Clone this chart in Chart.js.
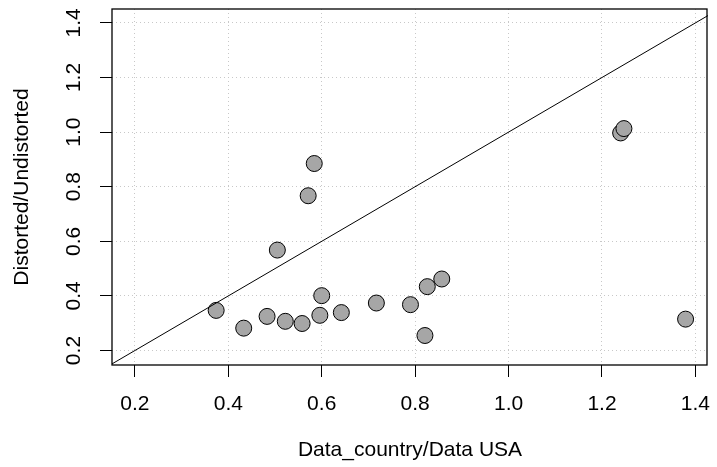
<!DOCTYPE html>
<html>
<head>
<meta charset="utf-8">
<script src="https://cdn.jsdelivr.net/npm/chart.js@4"></script>
<style>
html, body { margin: 0; padding: 0; background: #fff; }
#wrap { width: 717px; height: 467px; }
</style>
</head>
<body>
<div id="wrap"><canvas id="c" width="717" height="467"></canvas></div>
<script>
// Ma'lumotlar
const ratioX = [0.374, 0.433, 0.483, 0.522, 0.558, 0.505, 0.571, 0.584, 0.596, 0.600,
                0.642, 0.717, 0.790, 0.821, 0.826, 0.857, 1.240, 1.247, 1.379];
const ratioY = [0.347, 0.282, 0.325, 0.307, 0.299, 0.568, 0.767, 0.885, 0.329, 0.401,
                0.339, 0.374, 0.368, 0.255, 0.434, 0.462, 0.997, 1.013, 0.315];
const tickValues = [0.2, 0.4, 0.6, 0.8, 1.0, 1.2, 1.4];
const xRange = [0.151, 1.427];
const yRange = [0.147, 1.451];

const FONT = '21px "Liberation Sans", Arial, sans-serif';

// Boks va o'qlar yorliqlari
const rAxes = {
    id: 'rAxes',
    afterDraw(chart) {
        const ctx = chart.ctx, a = chart.chartArea;
        const xs = chart.scales.x, ys = chart.scales.y;
        ctx.save();
        ctx.strokeStyle = '#000';
        ctx.lineWidth = 1.3;
        ctx.strokeRect(a.left, a.top, a.right - a.left - 1, a.bottom - a.top);
        ctx.font = FONT;
        ctx.fillStyle = '#000';
        ctx.textAlign = 'center';
        ctx.textBaseline = 'middle';
        tickValues.forEach(v => {
            const px = xs.getPixelForValue(v);
            ctx.fillText(v.toFixed(1), px, 404);
            const py = ys.getPixelForValue(v);
            ctx.save();
            ctx.translate(74, py);
            ctx.rotate(-Math.PI / 2);
            ctx.fillText(v.toFixed(1), 0, 0);
            ctx.restore();
        });
        ctx.fillText('Data_country/Data USA', (a.left + a.right) / 2, 450);
        ctx.save();
        ctx.translate(22, (a.top + a.bottom) / 2);
        ctx.rotate(-Math.PI / 2);
        ctx.fillText('Distorted/Undistorted', 0, 0);
        ctx.restore();
        ctx.restore();
    }
};

const gridCfg = {
    color: '#c8c8c8',
    tickColor: '#000',
    tickBorderDash: [],
    tickLength: 12,
    drawTicks: true
};

new Chart(document.getElementById('c'), {
    data: {
        datasets: [{
            type: 'line',
            data: [{ x: 0, y: 0 }, { x: 2, y: 2 }],
            borderColor: '#000',
            borderWidth: 1,
            pointRadius: 0
        }, {
            type: 'scatter',
            data: ratioX.map((x, i) => ({ x: x, y: ratioY[i] })),
            backgroundColor: '#a6a6a6',
            borderColor: '#000',
            borderWidth: 1,
            pointRadius: 8
        }]
    },
    options: {
        responsive: false,
        animation: false,
        layout: { padding: { top: 6, right: 1, left: 0, bottom: 0 } },
        plugins: { legend: { display: false }, tooltip: { enabled: false } },
        scales: {
            x: {
                type: 'linear', min: xRange[0], max: xRange[1],
                afterBuildTicks: s => { s.ticks = tickValues.map(v => ({ value: v })); },
                afterFit: s => { s.height = 102; },
                ticks: { display: false },
                grid: gridCfg,
                border: { display: false, dash: [1, 3] }
            },
            y: {
                type: 'linear', min: yRange[0], max: yRange[1],
                afterBuildTicks: s => { s.ticks = tickValues.map(v => ({ value: v })); },
                afterFit: s => { s.width = 112; },
                ticks: { display: false },
                grid: gridCfg,
                border: { display: false, dash: [1, 3] }
            }
        }
    },
    plugins: [rAxes]
});
</script>
</body>
</html>
